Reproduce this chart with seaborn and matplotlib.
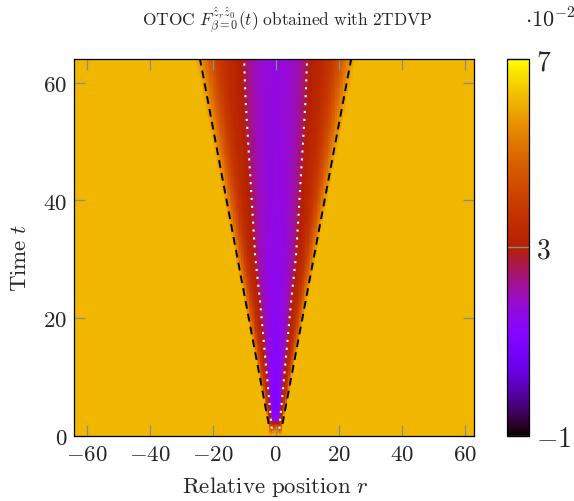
import numpy as np
import matplotlib
matplotlib.use("Agg")
import matplotlib.pyplot as plt
import seaborn as sns

# ---------------- data (values in units of 10^-2) ----------------
x_ticks = [-60, -40, -20, 0, 20, 40, 60]
y_ticks = [0, 20, 40, 60]
cbar_ticks = [-1, 3, 7]
cbar_labels = [r"$-1$", r"$3$", r"$7$"]

R_MIN, R_MAX, T_MAX = -64.0, 63.0, 64.0
V_MIN, V_MAX = -1.0, 7.0

# light cone (black dashed)
cone_t = [2.0, 64.0]
cone_r = [2.2, 24.0]
# diffusive front (white dotted)
front_t = [1.2, 22.6, 30.6, 56.8, 64.0]
front_r = [1.2, 4.9, 6.5, 9.5, 10.0]

# OTOC value along r = 0
center_t = [0, 1, 2, 3, 5, 10, 20, 40, 64]
center_v = [6.0, 4.0, 2.6, 1.2, 0.9, 1.1, 1.4, 1.6, 1.65]
# shape inside the front (|r| / front)
core_s = [0.0, 0.4, 0.7, 0.9, 1.0]
core_shape = [0.0, 0.1, 0.35, 0.7, 1.0]
core_edge_v = 2.7
# profile between front and light cone (continues a bit beyond the cone)
outer_w = [0.0, 0.15, 0.35, 0.55, 0.75, 0.9, 1.0, 1.12]
outer_v = [2.7, 3.1, 3.35, 3.8, 4.5, 5.2, 5.7, 6.15]
background_v = 6.15
# onset at very early times
onset_t = [0.0, 1.0, 2.5]
onset_f = [0.0, 0.5, 1.0]

# ---------------- build field ----------------
dr, dt = 0.5, 0.25
r_c = np.arange(R_MIN + dr / 2, R_MAX, dr)
t_c = np.arange(dt / 2, T_MAX, dt)
T, R = np.meshgrid(t_c, r_c, indexing="ij")
A = np.abs(R)
front = np.interp(T, front_t, front_r)
cone = np.interp(T, cone_t, cone_r)
cv = np.interp(T, center_t, center_v)
s = A / front
core = cv + (core_edge_v - cv) * np.interp(s, core_s, core_shape)
w = (A - front) / np.maximum(cone - front, 1e-6)
outer = np.interp(w, outer_w, outer_v, right=background_v)
field = np.where(s <= 1, core, outer)
fade = np.interp(T, onset_t, onset_f)
field = background_v + (field - background_v) * fade

# ---------------- plot ----------------
sns.set_theme(style="white")
plt.rcParams["mathtext.fontset"] = "cm"
plt.rcParams["font.family"] = ["DejaVu Serif"]

fig = plt.figure(figsize=(5.74, 5.02), dpi=100)
ax = fig.add_axes([74 / 574, 1 - 436.7 / 502, 400 / 574, 376.7 / 502])
cax = fig.add_axes([507 / 574, 1 - 436.7 / 502, 22 / 574, 376.7 / 502])

sns.heatmap(field, cmap="gnuplot", vmin=V_MIN, vmax=V_MAX, ax=ax, cbar_ax=cax,
            xticklabels=False, yticklabels=False, rasterized=True)
ax.invert_yaxis()
ax.set_axisbelow(False)
cax.set_axisbelow(False)


def to_x(r):
    return (np.asarray(r, dtype=float) - R_MIN) / dr


def to_y(t):
    return np.asarray(t, dtype=float) / dt


for sgn in (-1, 1):
    ax.plot(to_x(sgn * np.asarray(cone_r)), to_y(cone_t), color="black", lw=1.4,
            linestyle=(0, (4, 2.7)), zorder=3)
    ax.plot(to_x(sgn * np.asarray(front_r)), to_y(front_t), color="white", lw=1.5,
            linestyle=(0, (1, 2.8)), zorder=3)

ax.set_xlim(0, field.shape[1])
ax.set_ylim(0, field.shape[0])

TICK_FS = 16.5
LABEL_FS = 16.5
ax.set_xticks(to_x(x_ticks))
ax.set_xticklabels([r"$%d$" % v for v in x_ticks], fontsize=TICK_FS)
ax.set_yticks(to_y(y_ticks))
ax.set_yticklabels([r"$%d$" % v for v in y_ticks], fontsize=TICK_FS)
ax.tick_params(direction="in", length=8, width=0.9, color="#8c8c8c",
               top=True, right=True, bottom=True, left=True, pad=5)
for sp in ax.spines.values():
    sp.set_visible(True)
    sp.set_color("black")
    sp.set_linewidth(0.9)
    sp.set_zorder(4)

cb = ax.collections[0].colorbar
cb.set_ticks(cbar_ticks)
cb.set_ticklabels(cbar_labels)
cb.outline.set_linewidth(0.9)
cb.outline.set_edgecolor("black")
cb.outline.set_zorder(10)
cax.tick_params(direction="in", length=16, width=1.0, color="#8c8c8c",
                labelsize=20, pad=5, right=True, left=False)

fig.text(0.5, 1 - 26 / 502,
         r"$\mathrm{OTOC}\ F^{\hat{z}_r\hat{z}_0}_{\beta=0}(t)\ \mathrm{obtained\ with\ 2TDVP}$",
         ha="center", va="baseline", fontsize=12.5)
fig.text(525 / 574, 1 - 27 / 502, r"$\cdot 10^{-2}$", ha="left", va="baseline",
         fontsize=16)
fig.text(275 / 574, 1 - 493 / 502, r"$\mathrm{Relative\ position}\ r$",
         ha="center", va="baseline", fontsize=LABEL_FS)
fig.text(20 / 574, 1 - 258 / 502, r"$\mathrm{Time}\ t$", ha="center",
         va="center", rotation=90, fontsize=LABEL_FS)

fig.savefig("out.png", dpi=100)
